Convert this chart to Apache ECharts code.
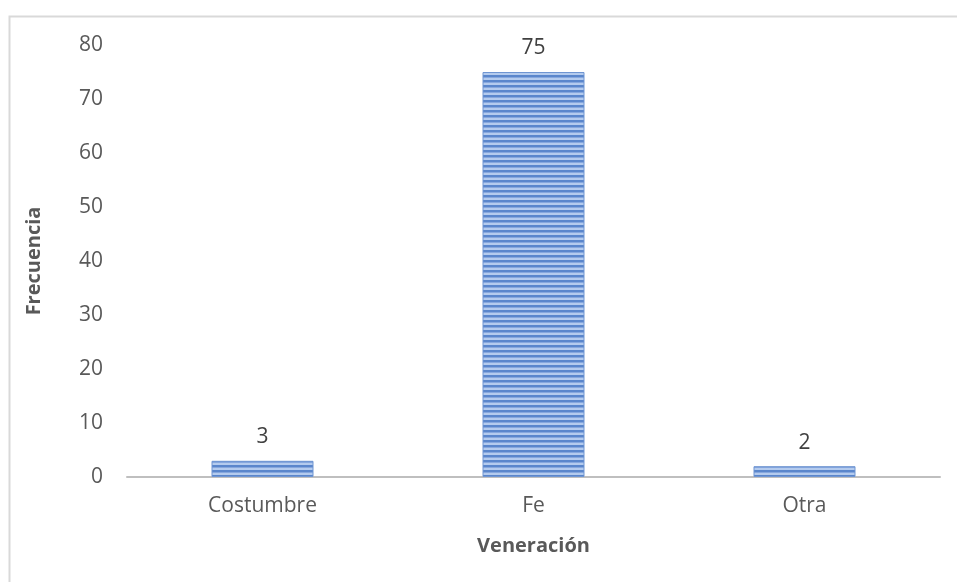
<!DOCTYPE html>
<html><head><meta charset="utf-8">
<script src="https://cdn.jsdelivr.net/npm/echarts@6/dist/echarts.min.js"></script>
<style>html,body{margin:0;padding:0;background:#fff}#c{width:957px;height:582px}</style>
</head><body><div id="c"></div>
<script>
var categories = ['Costumbre', 'Fe', 'Otra'];
var values = [3, 75, 2];
var yTicks = [0, 10, 20, 30, 40, 50, 60, 70, 80];

var pc = document.createElement('canvas');
pc.width = 8; pc.height = 5;
var ctx = pc.getContext('2d');
ctx.fillStyle = '#b4cbee'; ctx.fillRect(0, 0, 8, 5);
ctx.fillStyle = '#5a86cc'; ctx.fillRect(0, 0, 8, 2);
ctx.fillStyle = '#86a7de'; ctx.fillRect(0, 2, 8, 1);

var font = 'Open Sans';
var chart = echarts.init(document.getElementById('c'));
chart.setOption({
  animation: false,
  graphic: [{type: 'rect', shape: {x: 9.5, y: 16.5, width: 960, height: 600}, style: {fill: 'none', stroke: '#d9d9d9', lineWidth: 2}, z: -1}],
  grid: {left: 127, right: 17, top: 45, bottom: 105},
  xAxis: {
    type: 'category', data: categories,
    name: 'Veneración', nameLocation: 'middle', nameGap: 59,
    nameTextStyle: {fontFamily: font, fontWeight: 'bold', fontSize: 20, color: '#595959'},
    axisLine: {lineStyle: {color: '#bfbfbf', width: 2}},
    axisTick: {show: false},
    axisLabel: {fontFamily: font, fontSize: 21, color: '#595959', margin: 19}
  },
  yAxis: {
    type: 'value', min: 0, max: 80, interval: 10,
    name: 'Frecuencia', nameLocation: 'middle', nameGap: 83,
    nameTextStyle: {fontFamily: font, fontWeight: 'bold', fontSize: 20, color: '#595959'},
    axisLine: {show: false}, axisTick: {show: false},
    splitLine: {show: false},
    axisLabel: {fontFamily: font, fontSize: 21, color: '#595959', margin: 24,
      formatter: function (v) { return yTicks.indexOf(v) >= 0 ? String(v) : ''; }}
  },
  series: [{
    type: 'bar', data: values, barWidth: 102,
    itemStyle: {color: {image: pc, repeat: 'repeat'}, borderColor: '#6f95d2', borderWidth: 1},
    label: {show: true, position: 'top', distance: 13, fontFamily: font, fontSize: 21, color: '#404040'}
  }]
});
</script></body></html>
